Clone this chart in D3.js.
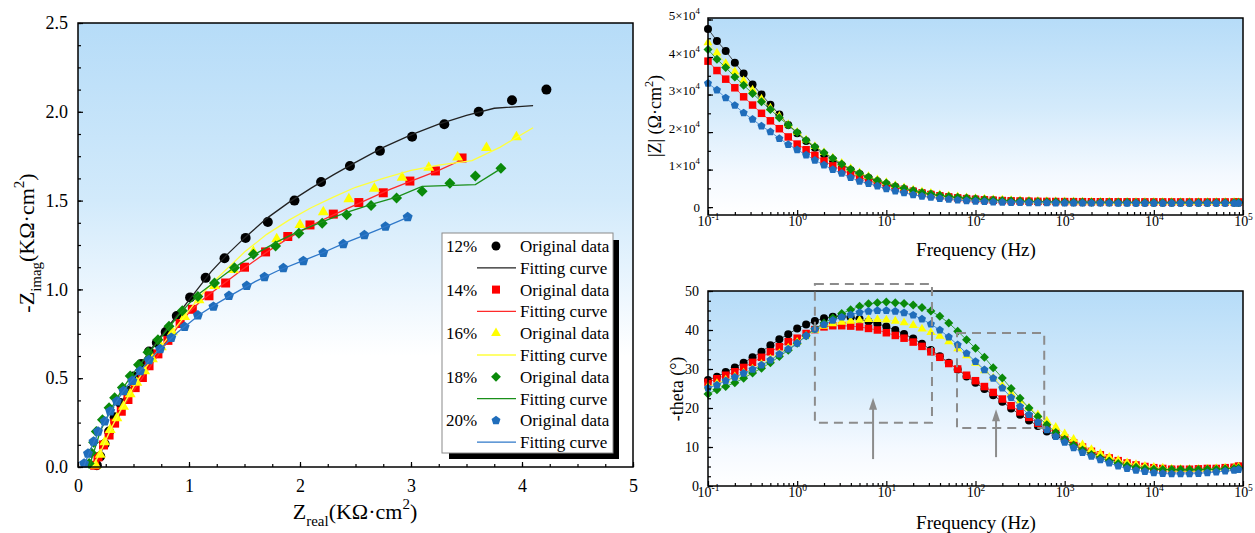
<!DOCTYPE html>
<html lang="en">
<head>
<meta charset="UTF-8">
<title>EIS Nyquist and Bode plots</title>
<script src="https://cdn.jsdelivr.net/npm/d3@7"></script>
<style>
    body { margin: 0; background: #fff; }
    svg, svg text, svg tspan { font-family: "Liberation Serif", "Times New Roman", serif; }
</style>
</head>
<body>
<svg id="chart" width="1255" height="533"></svg>
<script>
// ---------- data ----------
const pctLabels = ['12%', '14%', '16%', '18%', '20%'];

// Nyquist: [Z' , -Z''] in kOhm cm2
const nyq12Data = [[0.17,0.01],[0.2,0.06],[0.24,0.13],[0.28,0.2],[0.33,0.28],[0.38,0.36],[0.44,0.43],[0.5,0.51],[0.57,0.58],[0.64,0.65],[0.71,0.7],[0.79,0.76],[0.89,0.85],[1.01,0.955],[1.15,1.065],[1.32,1.175],[1.51,1.29],[1.71,1.38],[1.95,1.5],[2.19,1.605],[2.45,1.695],[2.72,1.78],[3.01,1.86],[3.3,1.93],[3.61,2.0],[3.91,2.065],[4.22,2.125]];
const nyq12Fit = [[0.15,0],[0.2,0.07],[0.25,0.15],[0.3,0.23],[0.35,0.3],[0.4,0.37],[0.5,0.5],[0.6,0.61],[0.7,0.7],[0.8,0.78],[0.9,0.86],[1.0,0.94],[1.1,1.02],[1.2,1.1],[1.35,1.2],[1.5,1.29],[1.7,1.4],[1.9,1.49],[2.1,1.57],[2.3,1.645],[2.5,1.715],[2.75,1.8],[3.0,1.87],[3.25,1.93],[3.5,1.98],[3.75,2.02],[4.1,2.035]];
const nyq14Data = [[0.15,0.01],[0.18,0.057],[0.23,0.124],[0.28,0.18],[0.33,0.247],[0.39,0.314],[0.45,0.38],[0.515,0.447],[0.58,0.504],[0.64,0.57],[0.72,0.637],[0.81,0.713],[0.92,0.808],[1.03,0.888],[1.18,0.964],[1.33,1.036],[1.5,1.125],[1.69,1.211],[1.89,1.298],[2.09,1.363],[2.3,1.424],[2.53,1.489],[2.75,1.544],[2.99,1.61],[3.22,1.667],[3.46,1.74]];
const nyq14Fit = [[0.14,0],[0.2,0.08],[0.3,0.22],[0.4,0.33],[0.5,0.43],[0.6,0.52],[0.7,0.61],[0.8,0.7],[0.9,0.79],[1.0,0.87],[1.1,0.93],[1.2,0.98],[1.35,1.05],[1.5,1.12],[1.7,1.21],[1.9,1.29],[2.1,1.36],[2.3,1.42],[2.55,1.49],[2.8,1.56],[3.0,1.61],[3.25,1.67],[3.46,1.73]];
const nyq16Data = [[0.16,0.01],[0.2,0.07],[0.24,0.14],[0.29,0.21],[0.35,0.275],[0.41,0.34],[0.47,0.41],[0.53,0.475],[0.6,0.54],[0.67,0.608],[0.75,0.675],[0.85,0.76],[0.96,0.846],[1.09,0.94],[1.23,1.02],[1.4,1.11],[1.58,1.211],[1.79,1.283],[2.0,1.363],[2.21,1.435],[2.44,1.508],[2.67,1.568],[2.92,1.629],[3.16,1.686],[3.42,1.743],[3.68,1.797],[3.95,1.857]];
const nyq16Fit = [[0.13,0],[0.2,0.08],[0.3,0.22],[0.4,0.34],[0.5,0.45],[0.6,0.55],[0.7,0.64],[0.8,0.72],[0.9,0.8],[1.0,0.88],[1.1,0.96],[1.2,1.03],[1.35,1.12],[1.5,1.21],[1.7,1.31],[1.9,1.39],[2.1,1.46],[2.3,1.52],[2.5,1.575],[2.75,1.625],[3.0,1.67],[3.25,1.7],[3.55,1.725],[3.8,1.8],[4.1,1.91]];
const nyq18Data = [[0.1,0.02],[0.12,0.08],[0.14,0.14],[0.165,0.2],[0.22,0.266],[0.28,0.333],[0.33,0.39],[0.4,0.447],[0.47,0.513],[0.545,0.576],[0.63,0.646],[0.72,0.717],[0.82,0.793],[0.94,0.88],[1.08,0.96],[1.23,1.036],[1.41,1.122],[1.58,1.198],[1.78,1.245],[1.99,1.316],[2.2,1.373],[2.42,1.42],[2.64,1.473],[2.87,1.515],[3.1,1.553],[3.35,1.597],[3.58,1.639],[3.81,1.682]];
const nyq18Fit = [[0.1,0],[0.15,0.1],[0.2,0.2],[0.3,0.33],[0.4,0.44],[0.5,0.53],[0.6,0.61],[0.7,0.69],[0.8,0.77],[0.9,0.85],[1.0,0.92],[1.1,0.98],[1.25,1.05],[1.4,1.12],[1.6,1.2],[1.8,1.27],[2.0,1.33],[2.2,1.38],[2.4,1.43],[2.65,1.48],[2.87,1.52],[3.1,1.58],[3.58,1.59],[3.81,1.68]];
const nyq20Data = [[0.055,0.02],[0.09,0.076],[0.14,0.143],[0.18,0.2],[0.24,0.257],[0.29,0.314],[0.35,0.37],[0.41,0.428],[0.49,0.485],[0.56,0.54],[0.64,0.603],[0.74,0.665],[0.84,0.728],[0.96,0.789],[1.08,0.854],[1.22,0.903],[1.36,0.964],[1.52,1.02],[1.68,1.07],[1.85,1.12],[2.03,1.16],[2.21,1.207],[2.39,1.255],[2.58,1.306],[2.77,1.354],[2.97,1.407]];
const nyq20Fit = [[0.05,0],[0.1,0.08],[0.15,0.15],[0.2,0.21],[0.3,0.32],[0.4,0.42],[0.5,0.5],[0.6,0.57],[0.7,0.64],[0.8,0.7],[0.9,0.76],[1.0,0.81],[1.1,0.86],[1.25,0.92],[1.4,0.975],[1.6,1.045],[1.8,1.105],[2.0,1.155],[2.2,1.205],[2.4,1.26],[2.6,1.31],[2.8,1.36],[2.97,1.405]];

// Bode: frequency (Hz)
const freqHz = [0.1,0.126,0.158,0.2,0.251,0.316,0.398,0.501,0.631,0.794,
    1,1.26,1.58,2,2.51,3.16,3.98,5.01,6.31,7.94,
    10,12.6,15.8,20,25.1,31.6,39.8,50.1,63.1,79.4,
    100,126,158,200,251,316,398,501,631,794,
    1000,1259,1585,1995,2512,3162,3981,5012,6310,7943,
    10000,12589,15849,19953,25119,31623,39811,50119,63096,79433,89125];

// |Z| (Ohm cm2)
const modZ12 = [47500,44300,41600,38500,35600,32700,30000,27300,24700,21900,
    19700,17600,15800,14100,12600,11200,9900,8800,7800,6900,
    6100,5400,4800,4300,3800,3400,3050,2750,2500,2280,
    2100,1950,1820,1720,1630,1560,1500,1450,1410,1380,
    1350,1330,1310,1300,1290,1280,1270,1265,1260,1255,
    1250,1245,1240,1240,1235,1235,1230,1230,1230,1225,1225];
const modZ14 = [38900,36400,34100,31800,29400,27200,25000,23000,20900,18700,
    16800,15300,13800,12300,11000,9900,8800,7900,7200,6500,
    5800,5200,4700,4200,3750,3350,3000,2700,2450,2250,
    2080,1950,1840,1750,1680,1620,1580,1540,1510,1490,
    1470,1455,1445,1435,1425,1420,1415,1410,1405,1400,
    1400,1395,1395,1390,1390,1390,1385,1385,1385,1380,1380];
const modZ16 = [43800,41100,38300,36100,33700,31200,28800,26400,24200,22000,
    20000,17900,16200,14600,13100,11700,10300,9200,8200,7300,
    6600,5800,5200,4600,4100,3700,3300,3000,2750,2520,
    2320,2150,2000,1880,1780,1700,1630,1570,1520,1480,
    1450,1420,1400,1380,1360,1350,1340,1330,1320,1310,
    1300,1300,1295,1290,1290,1285,1285,1280,1280,1280,1275];
const modZ18 = [42000,39400,37200,34700,32500,30300,28100,26000,23800,21900,
    19900,17800,16100,14500,13000,11500,10100,9000,8000,7100,
    6400,5600,5000,4400,3900,3500,3150,2850,2600,2400,
    2200,2040,1900,1790,1700,1620,1560,1500,1460,1420,
    1390,1360,1340,1320,1300,1290,1280,1270,1260,1250,
    1240,1235,1230,1225,1220,1220,1215,1210,1210,1205,1200];
const modZ20 = [33000,31200,29100,27100,25100,23400,21600,20100,18300,16700,
    15300,13900,12500,11200,10000,9000,7900,6900,6300,5600,
    4900,4300,3800,3300,2900,2600,2300,2050,1850,1700,
    1560,1450,1360,1290,1240,1200,1170,1140,1120,1100,
    1090,1080,1070,1060,1055,1050,1045,1040,1035,1030,
    1030,1025,1025,1020,1020,1020,1015,1015,1015,1010,1010];

// -theta (degrees)
const theta12 = [27.2,28.0,29.2,30.4,31.6,33.0,34.4,36.1,37.6,38.9,
    40.4,41.4,42.3,43.0,43.4,43.5,43.3,42.8,42.2,41.6,
    40.9,40.0,39.0,37.8,36.5,34.9,33.3,31.6,29.9,28.1,
    26.5,24.9,23.3,21.6,19.9,18.3,16.8,15.4,14.0,12.9,
    11.8,10.7,9.6,8.6,7.7,6.9,6.2,5.5,5.0,4.6,
    4.4,4.3,4.2,4.1,4.1,4.2,4.3,4.4,4.5,4.7,5.0];
const theta14 = [26.6,27.5,28.4,29.3,30.4,31.7,33.0,34.4,35.7,37.0,
    37.9,39.1,40.1,40.8,41.1,41.1,41.0,40.8,40.4,40.0,
    39.3,38.6,37.9,36.9,35.8,34.4,33.0,31.4,30.0,28.4,
    27.0,25.5,24.0,22.3,20.6,19.0,17.6,16.1,14.8,13.6,
    12.3,11.1,10.0,8.9,8.0,7.2,6.5,5.9,5.4,5.0,
    4.7,4.5,4.3,4.3,4.3,4.4,4.5,4.5,4.7,4.8,5.1];
const theta16 = [25.5,26.3,27.2,28.0,29.0,30.0,31.2,32.5,34.0,35.4,
    36.9,38.5,39.9,41.0,41.6,42.0,42.3,42.5,42.7,42.7,
    42.6,42.3,41.9,41.2,40.3,39.4,38.4,37.0,35.2,33.4,
    31.5,29.6,27.7,25.7,23.7,21.8,20.0,18.3,16.7,15.1,
    13.4,12.0,10.6,9.4,8.3,7.4,6.6,6.0,5.5,5.1,
    4.8,4.6,4.4,4.3,4.3,4.3,4.4,4.5,4.6,4.7,4.9];
const theta18 = [23.6,24.7,25.5,26.5,27.6,29.0,30.2,31.6,33.2,34.8,
    36.6,38.5,40.3,41.8,43.1,44.2,45.2,46.1,46.7,47.0,
    47.2,47.0,46.8,46.4,45.8,44.9,43.5,41.8,39.7,37.5,
    35.3,33.0,30.3,27.7,25.0,22.5,20.0,17.8,15.7,13.7,
    12.0,10.5,9.2,8.1,7.2,6.4,5.8,5.2,4.8,4.5,
    4.3,4.2,4.2,4.2,4.2,4.2,4.3,4.3,4.4,4.5,4.6];
const theta20 = [25.1,25.9,27.0,27.9,28.9,29.9,31.0,32.3,33.8,35.1,
    36.6,38.5,40.2,41.4,42.5,43.3,43.9,44.5,44.8,45.0,
    45.0,44.8,44.4,43.8,42.8,41.5,40.0,38.2,36.2,34.0,
    31.9,29.8,27.6,25.1,22.7,20.4,18.3,16.3,14.4,12.7,
    11.2,9.8,8.6,7.6,6.7,5.9,5.1,4.5,4.0,3.7,
    3.4,3.2,3.1,3.1,3.1,3.2,3.4,3.6,3.8,4.0,4.2];

// ticks
const nyqXTicks = [0, 1, 2, 3, 4, 5];
const nyqYTicks = [0, 0.5, 1, 1.5, 2, 2.5];
const freqTicks = [0.1, 1, 10, 100, 1000, 10000, 100000];
const freqTickExp = ['-1', '0', '1', '2', '3', '4', '5'];
const modZTicks = [0, 10000, 20000, 30000, 40000, 50000];
const modZTickMant = ['0', '1', '2', '3', '4', '5'];
const thetaTicks = [0, 10, 20, 30, 40, 50];

// phase plot annotations: [f from, f to, theta low, theta high], arrows [f, theta from, theta to]
const phaseBoxes = [[1.58, 32.5, 16.2, 51.8], [62, 590, 14.9, 39.2]];
const phaseArrows = [[7.1, 6.9, 22.6], [170, 7.4, 19.7]];

// ---------- styles ----------
const FONT = '"Liberation Serif", "Times New Roman", serif';
const nyqData = [nyq12Data, nyq14Data, nyq16Data, nyq18Data, nyq20Data];
const nyqFit = [nyq12Fit, nyq14Fit, nyq16Fit, nyq18Fit, nyq20Fit];
const modZ = [modZ12, modZ14, modZ16, modZ18, modZ20];
const theta = [theta12, theta14, theta16, theta18, theta20];

const markColor = ['#000000', '#ff0000', '#ffff00', '#0a8a0a', '#1f6dbb'];
const lineColor = ['#222222', '#ff2a2a', '#ffff3c', '#1a8f1a', '#2f78c9'];

// custom marker shapes, size = width squared
const shapeCircle = { draw(c, s) { const r = Math.sqrt(s) / 2; c.moveTo(r, 0); c.arc(0, 0, r, 0, 2 * Math.PI); } };
const shapeSquare = { draw(c, s) { const h = Math.sqrt(s) / 2; c.rect(-h, -h, 2 * h, 2 * h); } };
const shapeTriangle = { draw(c, s) {
    const w = Math.sqrt(s), h = w * 0.866;
    c.moveTo(0, -2 * h / 3); c.lineTo(w / 2, h / 3); c.lineTo(-w / 2, h / 3); c.closePath();
} };
const shapeDiamond = { draw(c, s) {
    const h = Math.sqrt(s) / 2;
    c.moveTo(0, -h); c.lineTo(h, 0); c.lineTo(0, h); c.lineTo(-h, 0); c.closePath();
} };
const shapePentagon = { draw(c, s) {
    const r = Math.sqrt(s) / 2;
    for (let k = 0; k < 5; k++) {
        const a = -Math.PI / 2 + k * 2 * Math.PI / 5;
        if (k === 0) c.moveTo(r * Math.cos(a), r * Math.sin(a)); else c.lineTo(r * Math.cos(a), r * Math.sin(a));
    }
    c.closePath();
} };
const shapes = [shapeCircle, shapeSquare, shapeTriangle, shapeDiamond, shapePentagon];
const nyqMarkW = [10, 9, 11, 11, 10.5];
const bodeMarkW = [8, 7.5, 9, 9, 8.5];

const svg = d3.select('#chart').attr('font-family', FONT);
const defs = svg.append('defs');

function addGradient(id, stops) {
    const g = defs.append('linearGradient').attr('id', id)
        .attr('x1', 0).attr('y1', 0).attr('x2', 0).attr('y2', 1);
    stops.forEach(s => g.append('stop').attr('offset', s[0]).attr('stop-color', s[1]));
}
addGradient('bgLeft', [[0, '#b6dcf8'], [0.4, '#d2eafb'], [0.62, '#eef7fe'], [0.75, '#ffffff'], [1, '#ffffff']]);
addGradient('bgRight', [[0, '#b6dcf8'], [0.45, '#d3eafb'], [0.8, '#f4f9ff'], [1, '#ffffff']]);

// text with sub / superscripts
function richText(sel, parts, size) {
    let shift = 0;
    sel.attr('font-family', FONT);
    parts.forEach(p => {
        const target = p.sub ? 0.3 * size : p.sup ? -0.45 * size : 0;
        sel.append('tspan')
            .attr('dy', target - shift)
            .style('font-size', ((p.sub || p.sup) ? 0.68 * size : size) + 'px')
            .text(p.t);
        shift = target;
    });
}

function styleAxis(g, size) {
    g.attr('font-family', FONT).attr('font-size', size);
    g.select('.domain').remove();
    g.selectAll('.tick line').attr('stroke', '#000').attr('stroke-width', 1.2);
    g.selectAll('.tick text').attr('fill', '#000').style('font-size', size + 'px');
}

function plainText(x, y, str, size, transform) {
    const t = svg.append('text').attr('text-anchor', 'middle').attr('font-family', FONT)
        .style('font-size', size + 'px').text(str);
    if (transform) t.attr('transform', transform); else t.attr('x', x).attr('y', y);
    return t;
}

// ---------- Nyquist plot ----------
const xN = d3.scaleLinear().domain([0, 5]).range([78, 633]);
const yN = d3.scaleLinear().domain([0, 2.5]).range([467, 23]);

svg.append('rect').attr('x', 78).attr('y', 23).attr('width', 555).attr('height', 444)
    .attr('fill', 'url(#bgLeft)');

const nyqLine = d3.line().x(d => xN(d[0])).y(d => yN(d[1]));
nyqData.forEach((data, k) => {
    const g = svg.append('g');
    g.selectAll('path.mk').data(data).enter().append('path')
        .attr('class', 'mk')
        .attr('transform', d => `translate(${xN(d[0])},${yN(d[1])})`)
        .attr('d', d3.symbol().type(shapes[k]).size(nyqMarkW[k] * nyqMarkW[k]))
        .attr('fill', markColor[k]);
    g.append('path').datum(nyqFit[k])
        .attr('d', nyqLine)
        .attr('fill', 'none')
        .attr('stroke', lineColor[k])
        .attr('stroke-width', 1.3);
});

const nxMinor = svg.append('g').attr('transform', 'translate(0,467)')
    .call(d3.axisBottom(xN).tickValues(d3.range(0, 5.01, 0.25)).tickSize(-3).tickFormat(''));
styleAxis(nxMinor, 18);
const nxMajor = svg.append('g').attr('transform', 'translate(0,467)')
    .call(d3.axisBottom(xN).tickValues(nyqXTicks).tickSizeInner(-5).tickSizeOuter(0).tickPadding(12).tickFormat(d3.format('d')));
styleAxis(nxMajor, 18);
const nyMinor = svg.append('g').attr('transform', 'translate(78,0)')
    .call(d3.axisLeft(yN).tickValues(d3.range(0, 2.51, 0.125)).tickSize(-3).tickFormat(''));
styleAxis(nyMinor, 18);
const nyMajor = svg.append('g').attr('transform', 'translate(78,0)')
    .call(d3.axisLeft(yN).tickValues(nyqYTicks).tickSizeInner(-5).tickSizeOuter(0).tickPadding(10).tickFormat(d3.format('.1f')));
styleAxis(nyMajor, 18);

svg.append('rect').attr('x', 78).attr('y', 23).attr('width', 555).attr('height', 444)
    .attr('fill', 'none').attr('stroke', '#000').attr('stroke-width', 1.5);

richText(svg.append('text').attr('x', 355).attr('y', 519).attr('text-anchor', 'middle'),
    [{ t: 'Z' }, { t: 'real', sub: true }, { t: '(KΩ·cm' }, { t: '2', sup: true }, { t: ')' }], 22);
richText(svg.append('text').attr('transform', 'translate(34,243) rotate(-90)').attr('text-anchor', 'middle'),
    [{ t: '-Z' }, { t: 'imag', sub: true }, { t: '(KΩ·cm' }, { t: '2', sup: true }, { t: ')' }], 22);

// legend
const lg = svg.append('g');
lg.append('rect').attr('x', 449).attr('y', 240).attr('width', 170).attr('height', 219).attr('fill', '#000');
lg.append('rect').attr('x', 442).attr('y', 233).attr('width', 171).attr('height', 220)
    .attr('fill', '#fff').attr('stroke', '#8a8a8a').attr('stroke-width', 1);
pctLabels.forEach((lab, k) => {
    const yd = 246 + 21.8 * (2 * k), yf = yd + 21.8;
    lg.append('text').attr('x', 446).attr('y', yd + 6).attr('font-family', FONT).style('font-size', '17px').text(lab);
    lg.append('path').attr('transform', `translate(496,${yd})`)
        .attr('d', d3.symbol().type(shapes[k]).size(nyqMarkW[k] * nyqMarkW[k] * 0.8))
        .attr('fill', markColor[k]);
    lg.append('text').attr('x', 520).attr('y', yd + 6).attr('font-family', FONT).style('font-size', '17px').text('Original data');
    lg.append('line').attr('x1', 477).attr('x2', 516).attr('y1', yf).attr('y2', yf)
        .attr('stroke', lineColor[k]).attr('stroke-width', 1.3);
    lg.append('text').attr('x', 520).attr('y', yf + 6).attr('font-family', FONT).style('font-size', '17px').text('Fitting curve');
});

// ---------- Bode plots ----------
const xB = d3.scaleLog().domain([0.1, 100000]).range([708, 1243]);
const freqMinor = [];
[0.1, 1, 10, 100, 1000, 10000].forEach(dec => { for (let m = 2; m <= 9; m++) freqMinor.push(dec * m); });

function freqAxis(yPos) {
    const mi = svg.append('g').attr('transform', `translate(0,${yPos})`)
        .call(d3.axisBottom(xB).tickValues(freqMinor).tickSize(-3).tickFormat(''));
    styleAxis(mi, 14);
    const ma = svg.append('g').attr('transform', `translate(0,${yPos})`)
        .call(d3.axisBottom(xB).tickValues(freqTicks).tickSizeInner(-5).tickSizeOuter(0).tickPadding(11));
    styleAxis(ma, 14);
    ma.selectAll('.tick text').each(function (d, i) {
        const t = d3.select(this).text(null);
        richText(t, [{ t: '10' }, { t: freqTickExp[i], sup: true }], 14);
    });
}

function bodeSeries(yScale, values) {
    values.forEach((vals, k) => {
        const pts = freqHz.map((f, i) => [f, vals[i]]);
        const g = svg.append('g');
        g.append('path').datum(pts)
            .attr('d', d3.line().x(d => xB(d[0])).y(d => yScale(d[1])))
            .attr('fill', 'none').attr('stroke', lineColor[k]).attr('stroke-width', 0.8);
        g.selectAll('path.mk').data(pts).enter().append('path')
            .attr('class', 'mk')
            .attr('transform', d => `translate(${xB(d[0])},${yScale(d[1])})`)
            .attr('d', d3.symbol().type(shapes[k]).size(bodeMarkW[k] * bodeMarkW[k]))
            .attr('fill', markColor[k]);
    });
}

// |Z| plot
const yZ = d3.scaleLinear().domain([-2100, 50400]).range([215, 18]);
svg.append('rect').attr('x', 708).attr('y', 18).attr('width', 535).attr('height', 197).attr('fill', 'url(#bgRight)');
bodeSeries(yZ, modZ);
freqAxis(215);
const zMinor = svg.append('g').attr('transform', 'translate(708,0)')
    .call(d3.axisLeft(yZ).tickValues(d3.range(0, 50001, 5000)).tickSize(-3).tickFormat(''));
styleAxis(zMinor, 13);
const zMajor = svg.append('g').attr('transform', 'translate(708,0)')
    .call(d3.axisLeft(yZ).tickValues(modZTicks).tickSizeInner(-5).tickSizeOuter(0).tickPadding(8));
styleAxis(zMajor, 13);
zMajor.selectAll('.tick text').each(function (d, i) {
    const t = d3.select(this).text(null);
    if (d === 0) t.text('0');
    else richText(t, [{ t: modZTickMant[i] + '×10' }, { t: '4', sup: true }], 13);
});
svg.append('rect').attr('x', 708).attr('y', 18).attr('width', 535).attr('height', 197)
    .attr('fill', 'none').attr('stroke', '#000').attr('stroke-width', 1.5);
plainText(976, 256, 'Frequency (Hz)', 19);
richText(svg.append('text').attr('transform', 'translate(661,116) rotate(-90)').attr('text-anchor', 'middle'),
    [{ t: '|Z| (Ω·cm' }, { t: '2', sup: true }, { t: ')' }], 18);

// phase plot
const yT = d3.scaleLinear().domain([0, 50]).range([486, 291]);
svg.append('rect').attr('x', 708).attr('y', 291).attr('width', 535).attr('height', 195).attr('fill', 'url(#bgRight)');
bodeSeries(yT, theta);
freqAxis(486);
const tMinor = svg.append('g').attr('transform', 'translate(708,0)')
    .call(d3.axisLeft(yT).tickValues(d3.range(0, 50.1, 2.5)).tickSize(-3).tickFormat(''));
styleAxis(tMinor, 14);
const tMajor = svg.append('g').attr('transform', 'translate(708,0)')
    .call(d3.axisLeft(yT).tickValues(thetaTicks).tickSizeInner(-5).tickSizeOuter(0).tickPadding(9));
styleAxis(tMajor, 14);
svg.append('rect').attr('x', 708).attr('y', 291).attr('width', 535).attr('height', 195)
    .attr('fill', 'none').attr('stroke', '#000').attr('stroke-width', 1.5);
plainText(976, 529, 'Frequency (Hz)', 19);
plainText(0, 0, '-theta (°)', 18, 'translate(683,389) rotate(-90)');

// dashed boxes and arrows
phaseBoxes.forEach(b => {
    svg.append('rect')
        .attr('x', xB(b[0])).attr('y', yT(b[3]))
        .attr('width', xB(b[1]) - xB(b[0])).attr('height', yT(b[2]) - yT(b[3]))
        .attr('fill', 'none').attr('stroke', '#8c8c8c').attr('stroke-width', 2)
        .attr('stroke-dasharray', '9,6');
});
phaseArrows.forEach(a => {
    const x = xB(a[0]), y0 = yT(a[1]), y1 = yT(a[2]);
    svg.append('line').attr('x1', x).attr('x2', x).attr('y1', y0).attr('y2', y1 + 10)
        .attr('stroke', '#8c8c8c').attr('stroke-width', 2);
    svg.append('path').attr('d', `M${x},${y1} L${x + 4},${y1 + 12} L${x - 4},${y1 + 12} Z`).attr('fill', '#8c8c8c');
});
</script>
</body>
</html>
